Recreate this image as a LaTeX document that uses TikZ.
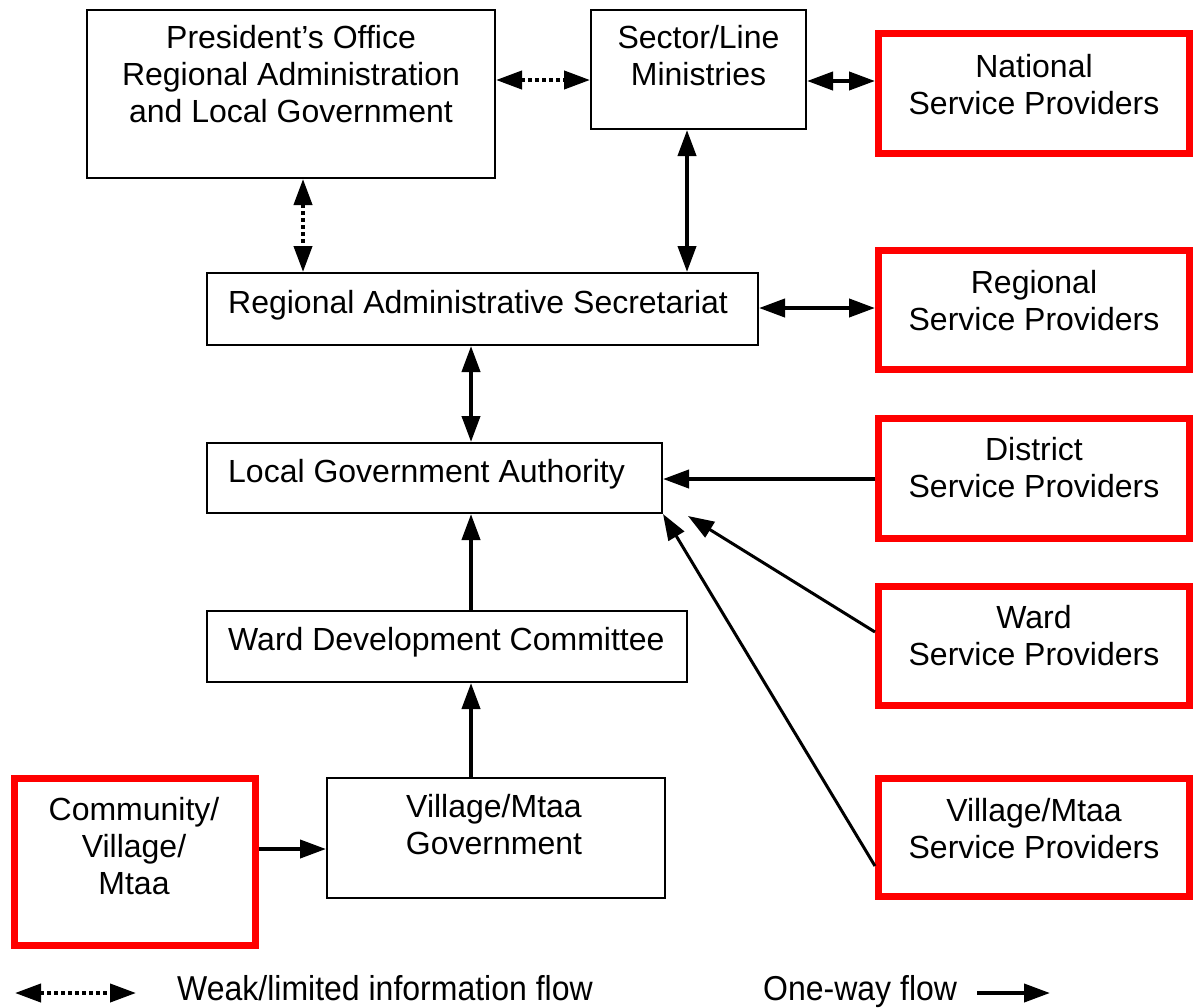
\documentclass[tikz,border=0pt]{standalone}
\usepackage{fontspec}
\setmainfont{Liberation Sans}
\usetikzlibrary{arrows.meta}
\newcommand\tstrut{\rule{0pt}{25pt}}
\tikzset{
  box/.style={draw=black, line width=2pt, rectangle, inner sep=0pt},
  rbox/.style={draw=red, line width=7pt, rectangle, inner sep=0pt},
  txt/.style={align=center, anchor=north, inner sep=0pt, font=\fontsize{32pt}{37pt}\selectfont},
  ltxt/.style={anchor=base west, inner sep=0pt, font=\fontsize{32pt}{37pt}\selectfont},
  both/.style={line width=4pt, {Triangle[length=26pt,width=18pt]}-{Triangle[length=26pt,width=18pt]}},
  weak/.style={both, dash pattern=on 4pt off 3pt},
  oneway/.style={line width=4pt, -{Triangle[length=26pt,width=18pt]}},
  thinway/.style={line width=3pt, -{Triangle[length=26pt,width=18pt]}},
}
\begin{document}
\begin{tikzpicture}[x=1pt,y=-1pt]
\useasboundingbox (0,0) rectangle (1193,1007);
% boxes
\node[box, minimum width=408pt, minimum height=168pt] (po) at (291,94) {};
\node[box, minimum width=215pt, minimum height=119pt] (sl) at (698.5,69.5) {};
\node[box, minimum width=551pt, minimum height=72pt] (ras) at (482.5,309) {};
\node[box, minimum width=455pt, minimum height=70pt] (lga) at (434.5,478) {};
\node[box, minimum width=480pt, minimum height=71pt] (wdc) at (447,646.5) {};
\node[box, minimum width=338pt, minimum height=120pt] (vmg) at (496,838) {};
\node[rbox, minimum width=311pt, minimum height=120pt] (nsp) at (1034,93.5) {};
\node[rbox, minimum width=311pt, minimum height=119pt] (rsp) at (1034,310) {};
\node[rbox, minimum width=311pt, minimum height=120pt] (dsp) at (1034,478.5) {};
\node[rbox, minimum width=311pt, minimum height=119pt] (wsp) at (1034,646) {};
\node[rbox, minimum width=311pt, minimum height=118pt] (vsp) at (1034,837.5) {};
\node[rbox, minimum width=241pt, minimum height=167pt] (cvm) at (135,862) {};
% texts
\node[txt] (tpo) at (291,23) {\tstrut President’s Office\\Regional Administration\\and Local Government};
\node[txt] (tsl) at (698.5,23) {\tstrut Sector/Line\\Ministries};
\node[txt] (tnsp) at (1034,52) {\tstrut National\\Service Providers};
\node[ltxt] (tras) at (228,313) {Regional Administrative Secretariat};
\node[txt] (trsp) at (1034,268) {\tstrut Regional\\Service Providers};
\node[ltxt] (tlga) at (228,482) {Local Government Authority};
\node[txt] (tdsp) at (1034,435) {\tstrut District\\Service Providers};
\node[ltxt] (twdc) at (228,650) {Ward Development Committee};
\node[txt] (twsp) at (1034,603) {\tstrut Ward\\Service Providers};
\node[txt] (tcvm) at (134,795) {\tstrut Community/\\Village/\\Mtaa};
\node[txt] (tvmg) at (494,792) {\tstrut Village/Mtaa\\Government};
\node[txt] (tvsp) at (1034,796) {\tstrut Village/Mtaa\\Service Providers};
% connectors
\draw[weak] (po.east |- 0,80) -- (sl.west |- 0,80);
\draw[weak] (303,0 |- po.south) -- (303,0 |- ras.north);
\draw[both] (687,0 |- sl.south) -- (687,0 |- ras.north);
\draw[both] (sl.east |- 0,81) -- (nsp.west |- 0,81);
\draw[both] (ras.east |- 0,308) -- (rsp.west |- 0,308);
\draw[both] (471,0 |- ras.south) -- (471,0 |- lga.north);
\draw[oneway] (dsp.west |- 0,479) -- (lga.east |- 0,479);
\coordinate (wtip) at (688,516);
\draw[thinway] (wsp.west |- 0,632) -- (wtip);
\draw[thinway] (vsp.west |- 0,866) -- (lga.south east);
\draw[oneway] (471,0 |- wdc.north) -- (471,0 |- lga.south);
\draw[oneway] (471,0 |- vmg.north) -- (471,0 |- wdc.south);
\draw[oneway] (cvm.east |- 0,849) -- (vmg.west |- 0,849);
% legend
\coordinate (lw1) at (15,993);
\coordinate (lw2) at (136,993);
\draw[weak] (lw1) -- (lw2);
\node[ltxt] (lwt) at (177,1000) {\scalebox{1}[1.08]{Weak/limited information flow}};
\node[ltxt] (lot) at (763,1000) {\scalebox{1}[1.08]{One-way flow}};
\coordinate (lo1) at (977,993);
\coordinate (lo2) at (1050,993);
\draw[oneway] (lo1) -- (lo2);
\end{tikzpicture}
\end{document}
